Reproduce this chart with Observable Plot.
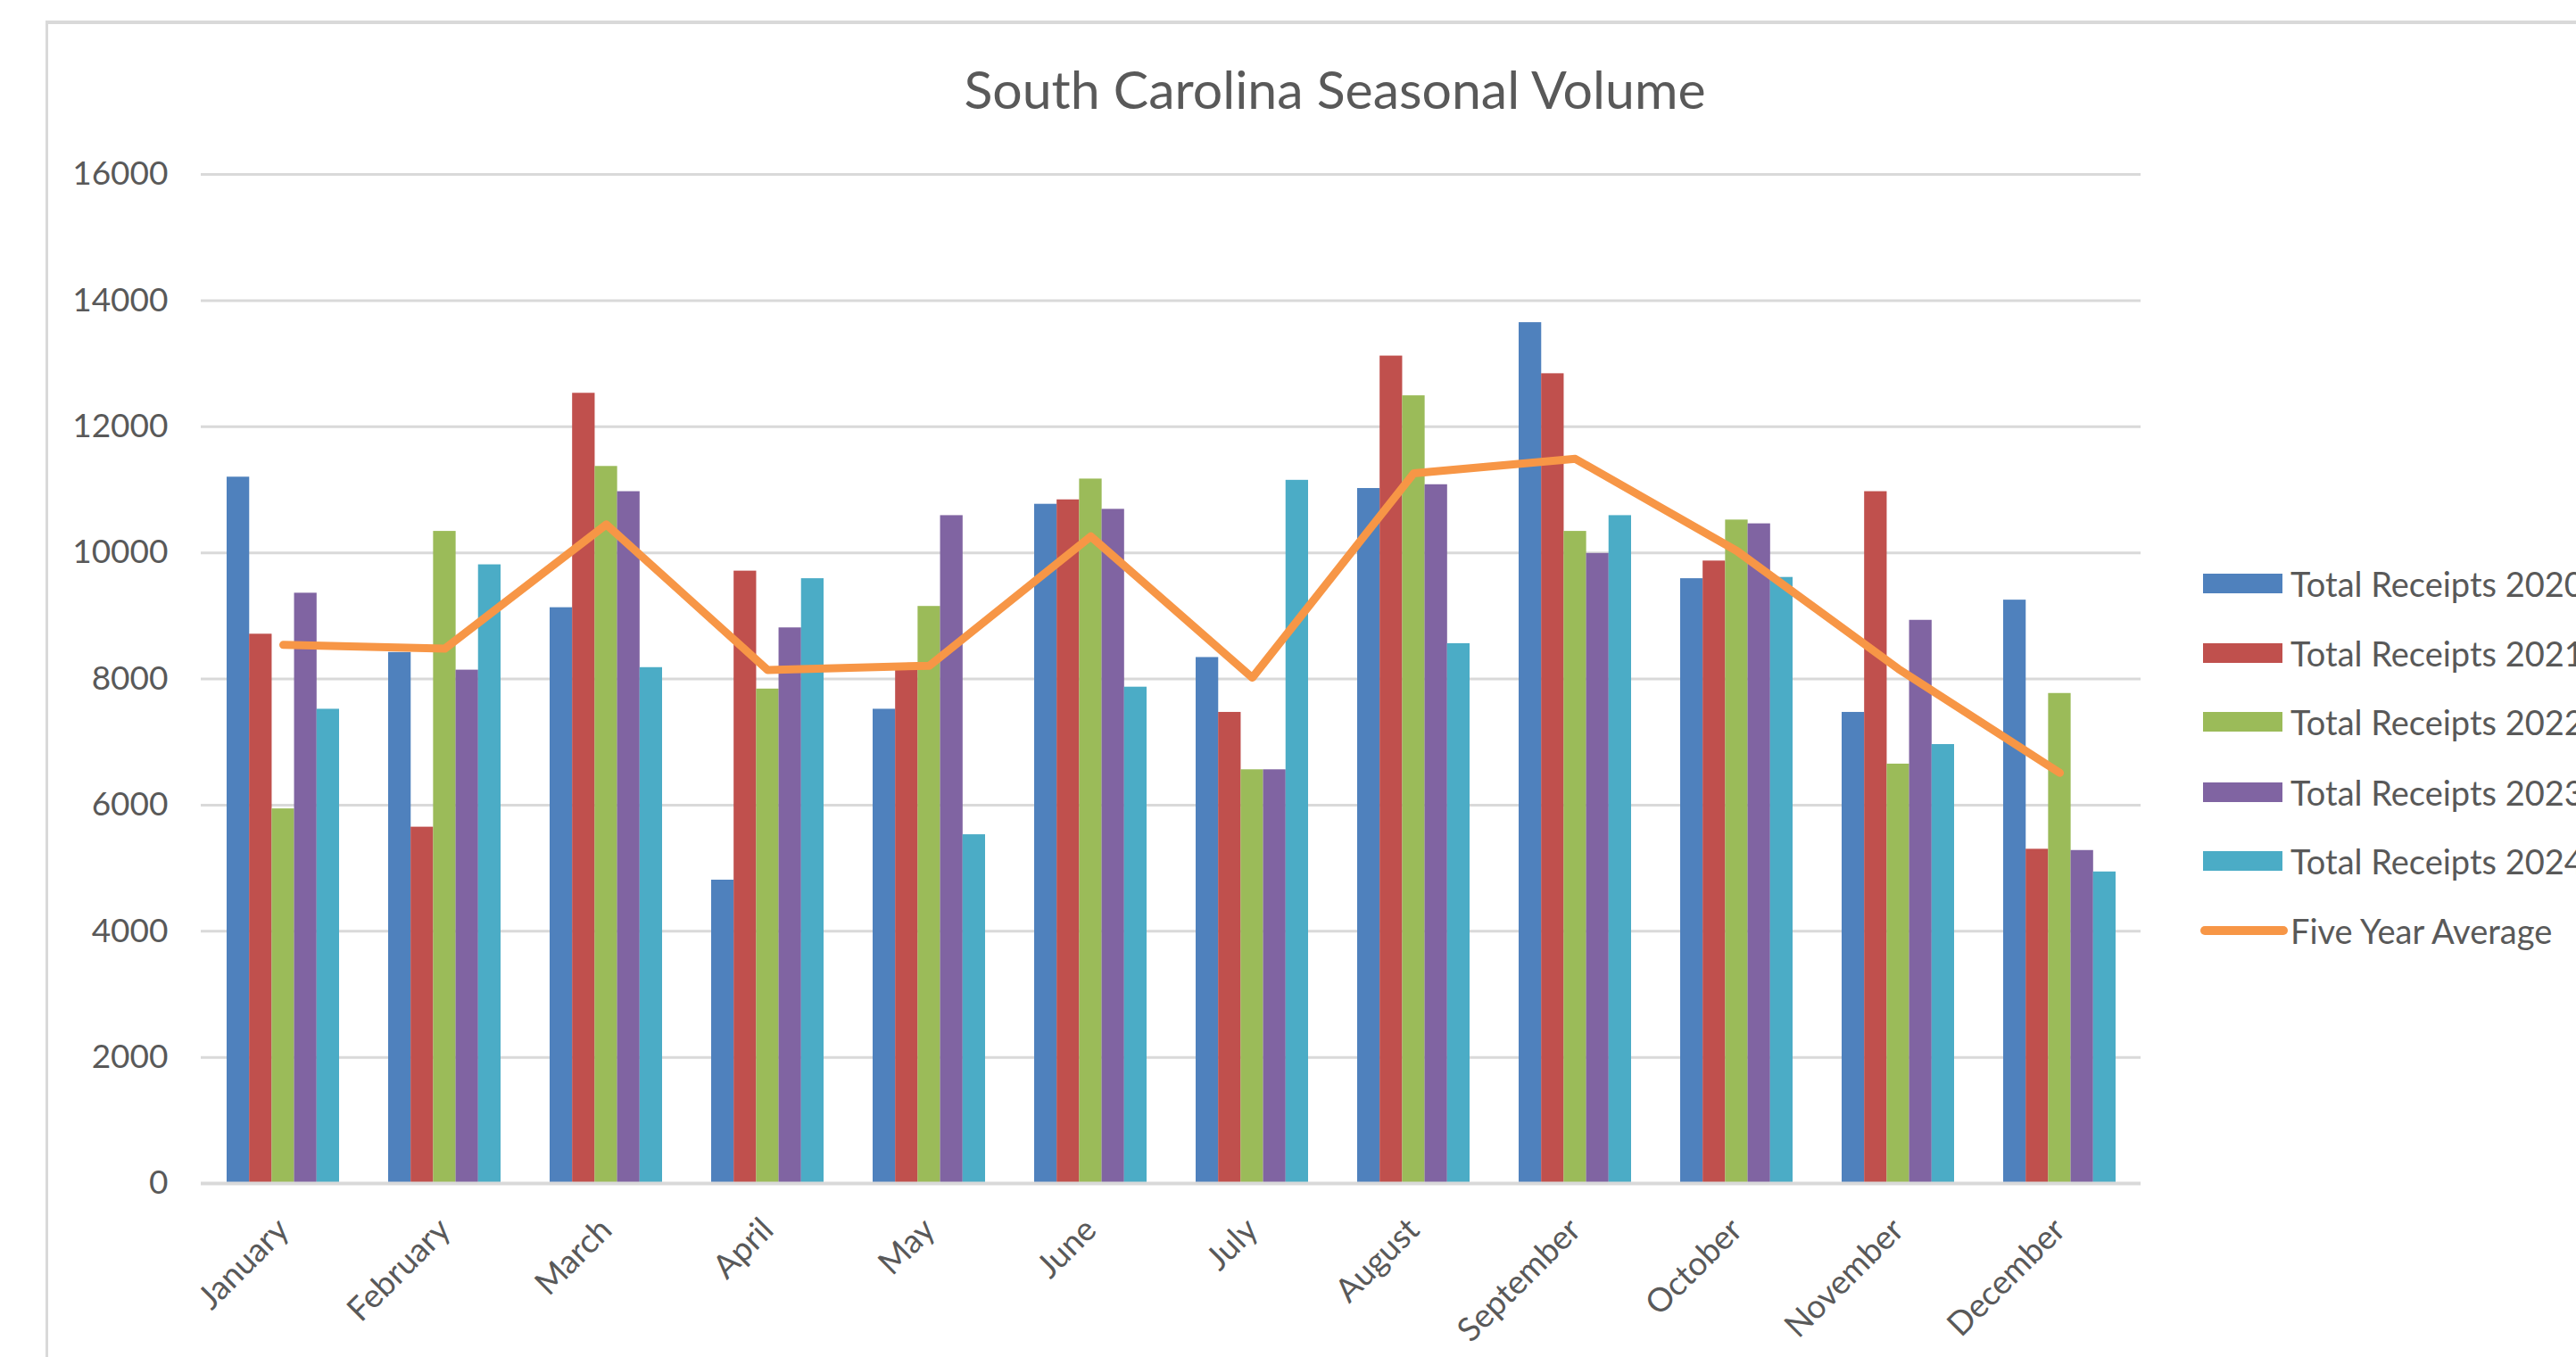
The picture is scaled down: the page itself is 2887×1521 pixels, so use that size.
<!DOCTYPE html>
<html>
<head>
<meta charset="utf-8">
<script src="https://cdn.jsdelivr.net/npm/d3@7"></script>
<script src="https://cdn.jsdelivr.net/npm/@observablehq/plot@0.6"></script>
<style>
  html, body { margin: 0; padding: 0; background: #fff; overflow: hidden; }
  #page { position: relative; width: 2887px; height: 1521px; overflow: hidden; background: #fff; font-family: Lato, "Open Sans", sans-serif; color: #595959; }
  #frame { position: absolute; left: 51px; top: 23px; width: 4000px; height: 3000px; border-left: 3px solid #d9d9d9; border-top: 4px solid #d9d9d9; }
  #title { position: absolute; left: 796px; width: 1400px; top: 70px; text-align: center; font-size: 59px; line-height: 59px; white-space: nowrap; }
  #chart { position: absolute; left: 0; top: 150px; }
  .lg { position: absolute; left: 2469px; height: 40px; white-space: nowrap; font-size: 38px; }
  .lg .sw { position: absolute; left: 0; top: 9px; width: 89px; height: 22px; }
  .lg .ln { position: absolute; left: -3px; top: 15px; width: 98px; height: 10px; border-radius: 5px; }
  .lg .tx { position: absolute; left: 98px; top: 0; line-height: 40px; }
</style>
</head>
<body>
<div id="page">
  <div id="frame"></div>
  <div id="title">South Carolina Seasonal Volume</div>
  <div id="chart"></div>
  <div id="legend"></div>
</div>
<script>
const months = ["January","February","March","April","May","June","July","August","September","October","November","December"];
const seriesNames = ["Total Receipts 2020","Total Receipts 2021","Total Receipts 2022","Total Receipts 2023","Total Receipts 2024"];
const lineName = "Five Year Average";
const r2020 = [11200, 8420, 9130, 4810, 7520, 10770, 8340, 11020, 13650, 9590, 7470, 9250];
const r2021 = [8710, 5650, 12530, 9710, 8200, 10840, 7470, 13120, 12840, 9870, 10970, 5300];
const r2022 = [5940, 10340, 11370, 7840, 9150, 11170, 6560, 12490, 10340, 10520, 6650, 7770];
const r2023 = [9360, 8140, 10970, 8810, 10590, 10690, 6560, 11080, 9990, 10460, 8930, 5280];
const r2024 = [7520, 9810, 8180, 9590, 5530, 7870, 11150, 8560, 10590, 9610, 6960, 4940];
const fiveYearAvg = [8540, 8480, 10450, 8140, 8210, 10260, 8020, 11260, 11490, 10030, 8160, 6510];
const yTicks = [0, 2000, 4000, 6000, 8000, 10000, 12000, 14000, 16000];
const colors = ["#4F81BD", "#C0504D", "#9BBB59", "#8064A2", "#4BACC6"];
const lineColor = "#F79646";

const seriesValues = [r2020, r2021, r2022, r2023, r2024];
const data = months.map((m, i) => ({
  month: m,
  values: seriesValues.map(s => s[i]),
  avg: fiveYearAvg[i]
}));

const W = 2887, H = 1371;
const mL = 225, mR = 2887 - 2399, mT = 45, mB = 195;
const pInner = 0.305, pOuter = pInner / 2;
const step = (W - mL - mR) / (months.length - pInner + 2 * pOuter);
const bw = step * (1 - pInner);
const bar = bw / seriesNames.length;

const barMarks = seriesNames.map((name, k) =>
  Plot.barY(data, {
    x: "month",
    y: d => d.values[k],
    fill: colors[k],
    insetLeft: k * bar,
    insetRight: (seriesNames.length - 1 - k) * bar
  })
);

const chart = Plot.plot({
  width: W,
  height: H,
  marginLeft: mL,
  marginRight: mR,
  marginTop: mT,
  marginBottom: mB,
  style: { fontFamily: "Lato, 'Open Sans', sans-serif", fontSize: "37px", color: "#595959", background: "transparent" },
  x: { type: "band", domain: months, paddingInner: pInner, paddingOuter: pOuter, label: null },
  y: { domain: [0, 16000], label: null },
  marks: [
    Plot.gridY(yTicks, { stroke: "#d9d9d9", strokeWidth: 3, strokeOpacity: 1 }),
    ...barMarks,
    Plot.ruleY([0], { stroke: "#d9d9d9", strokeWidth: 4 }),
    Plot.lineY(data, { x: "month", y: "avg", stroke: lineColor, strokeWidth: 9, strokeLinecap: "round", strokeLinejoin: "round" }),
    Plot.axisY(yTicks, { tickSize: 0, tickPadding: 37, tickFormat: d => String(d), fontSize: 37 }),
    Plot.axisX({ tickSize: 0, tickPadding: 46, tickRotate: -45, fontSize: 37 })
  ]
});
document.getElementById("chart").appendChild(chart);

const legend = document.getElementById("legend");
const rowY = [654, 732, 809, 888, 965, 1043];
seriesNames.forEach((name, k) => {
  const row = document.createElement("div");
  row.className = "lg";
  row.style.top = (rowY[k] - 20) + "px";
  row.innerHTML = `<div class="sw" style="background:${colors[k]}"></div><div class="tx">${name}</div>`;
  legend.appendChild(row);
});
const lrow = document.createElement("div");
lrow.className = "lg";
lrow.style.top = (rowY[5] - 20) + "px";
lrow.innerHTML = `<div class="ln" style="background:${lineColor}"></div><div class="tx">${lineName}</div>`;
legend.appendChild(lrow);
</script>
</body>
</html>
